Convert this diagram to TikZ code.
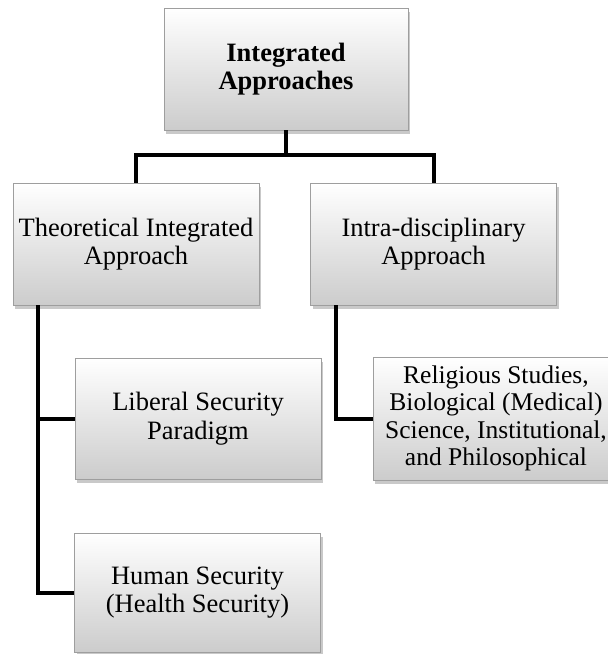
\documentclass[tikz,border=0pt]{standalone}
\usepackage{fontspec}
\setmainfont{Liberation Serif}
\usetikzlibrary{shadows}
\tikzset{
  box/.style={rectangle, minimum width=246pt, minimum height=122pt, inner sep=2pt,
    align=center, font=\fontsize{26.5}{28.5}\selectfont,
    top color=white, bottom color=black!20, draw=black!38, line width=0.9pt,
    drop shadow={shadow xshift=2pt, shadow yshift=-4pt, opacity=0.35, fill=black!60}},
  conn/.style={draw=black, line width=4pt}
}
\begin{document}
\begin{tikzpicture}[x=1pt,y=-1pt]
\useasboundingbox (0,0) rectangle (608,654);
\clip (0,0) rectangle (608,654);
\fill[white] (0,0) rectangle (608,654);
\coordinate (bus) at (286,155);
\coordinate (lx) at (38,305);
\coordinate (rx) at (336,305);
\node[box, minimum width=244pt] (top) at (286,69) {\textbf{Integrated}\\\textbf{Approaches}};
\node[box] (theo) at (136,244) {Theoretical Integrated\\Approach};
\node[box] (intra) at (433.5,244) {Intra-disciplinary\\Approach};
\node[box, minimum height=121pt] (lib) at (198,418.5) {Liberal Security\\Paradigm};
\node[box, minimum height=119pt] (hum) at (197.5,592.5) {Human Security\\(Health Security)};
\node[box, minimum height=123pt, font=\fontsize{25.5}{27.5}\selectfont] (rel) at (496,418.5) {Religious Studies,\\Biological (Medical)\\Science, Institutional,\\and Philosophical};
\draw[conn] (top.south) -- (bus);
\draw[conn] (theo.north) |- (bus) -| (intra.north);
\draw[conn] (lx) |- (lib.west);
\draw[conn] (lx) |- (hum.west);
\draw[conn] (rx) |- (rel.west);
\end{tikzpicture}
\end{document}
